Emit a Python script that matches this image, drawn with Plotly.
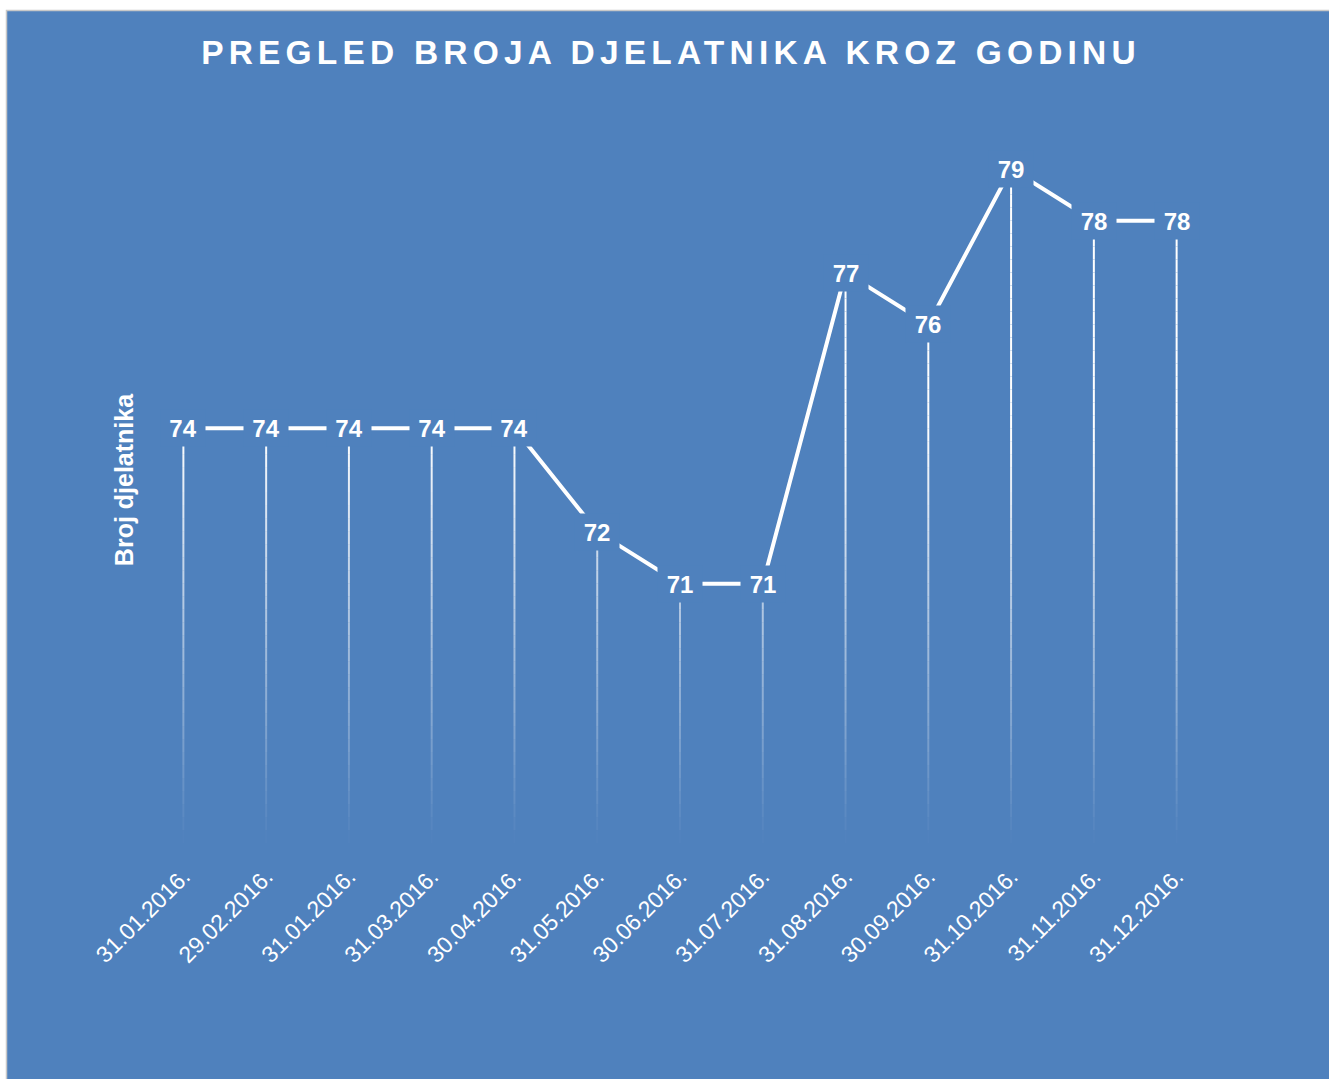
import plotly.graph_objects as go

# ---- data ----
dates = ["31.01.2016.", "29.02.2016.", "31.01.2016.", "31.03.2016.", "30.04.2016.",
         "31.05.2016.", "30.06.2016.", "31.07.2016.", "31.08.2016.", "30.09.2016.",
         "31.10.2016.", "31.11.2016.", "31.12.2016."]
employees = [74, 74, 74, 74, 74, 72, 71, 71, 77, 76, 79, 78, 78]
title_text = "PREGLED BROJA DJELATNIKA KROZ GODINU"
y_title = "Broj djelatnika"

# ---- style ----
BLUE = "#4F81BD"
W, H = 1329, 1079
ML, MR, MT, MB = 142, 111, 117, 236
PW, PH = W - ML - MR, H - MT - MB
Y_MIN, Y_MAX = 66, 80
FONT = "Liberation Sans, Arial, sans-serif"

xs = list(range(len(dates)))
fig = go.Figure()

# fading drop lines (white -> transparent toward the axis)
step = 0.25
n_levels = int(round((max(employees) - Y_MIN) / step))
for k in range(n_levels):
    lo = Y_MIN + k * step
    hi = lo + step
    xx, yy = [], []
    for x, v in zip(xs, employees):
        if v > lo:
            xx += [x, x, None]
            yy += [lo, min(hi, v), None]
    if not xx:
        continue
    a = max(0.0, min(1.0, ((lo + hi) / 2 - Y_MIN) / 8.0))
    fig.add_trace(go.Scatter(x=xx, y=yy, mode="lines",
                             line=dict(color=f"rgba(255,255,255,{a:.3f})", width=2),
                             hoverinfo="skip", showlegend=False))

# main line
fig.add_trace(go.Scatter(x=xs, y=employees, mode="lines",
                         line=dict(color="white", width=4),
                         showlegend=False))

# data labels with background boxes that interrupt the lines
for x, v in zip(xs, employees):
    fig.add_annotation(x=x, y=v, xref="x", yref="y", text=f"<b>{v}</b>",
                       showarrow=False, bgcolor=BLUE, borderpad=4,
                       width=36, height=28,
                       font=dict(family=FONT, size=24, color="white"))

# background panel with thin grey border
def px_to_paper_x(p):
    return (p - ML) / PW

def px_to_paper_y(p):
    return (MT + PH - p) / PH

fig.add_shape(type="rect", xref="paper", yref="paper", layer="below",
              x0=px_to_paper_x(6.5), x1=px_to_paper_x(W + 5),
              y0=px_to_paper_y(H + 5), y1=px_to_paper_y(10.5),
              fillcolor=BLUE, line=dict(color="#C8C8C8", width=1.5))

fig.update_layout(
    width=W, height=H,
    margin=dict(l=ML, r=MR, t=MT, b=MB, autoexpand=False),
    paper_bgcolor="white",
    plot_bgcolor="rgba(0,0,0,0)",
    title=dict(text=f"<b>{title_text}</b>", xref="container", yref="container",
               x=671 / W, xanchor="center", y=1 - 52 / H, yanchor="middle",
               font=dict(family=FONT, size=33.5, color="white")),
    xaxis=dict(range=[-0.5, len(dates) - 0.5], tickvals=xs, ticktext=dates,
               tickangle=-45, showgrid=False, zeroline=False, showline=False,
               ticks="outside", ticklen=10, tickcolor="rgba(0,0,0,0)",
               tickfont=dict(family=FONT, size=23, color="white"),
               automargin=False, fixedrange=True),
    yaxis=dict(range=[Y_MIN, Y_MAX], showticklabels=False, showgrid=False,
               zeroline=False, showline=False, ticks="",
               title=dict(text=f"<b>{y_title}</b>", standoff=0,
                          font=dict(family=FONT, size=25, color="white")),
               automargin=False, fixedrange=True),
    hovermode=False,
)

post = """
document.body.style.margin='0';
document.body.style.overflow='hidden';
document.querySelectorAll('.gtitle').forEach(function(e){e.style.letterSpacing='5.2px';});
"""
fig.write_html("out.html", post_script=post, config={"displayModeBar": False})
